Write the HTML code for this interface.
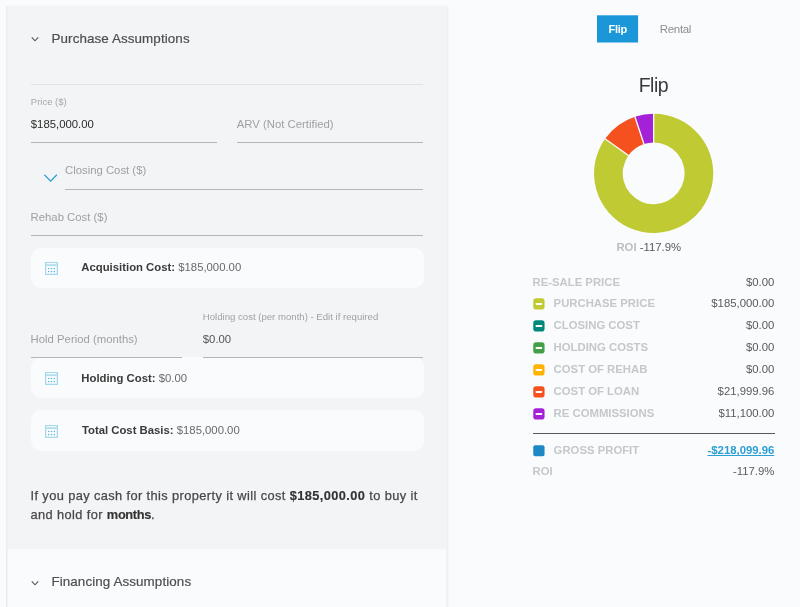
<!DOCTYPE html>
<html>
<head>
<meta charset="utf-8">
<title>Flip Calculator</title>
<style>
  html, body { margin: 0; padding: 0; }
  body {
    width: 800px; height: 607px; overflow: hidden; position: relative;
    background: #fafbfd;
    font-family: "Liberation Sans", sans-serif;
    font-size: 11.33px; color: #333;
  }
  .abs { position: absolute; white-space: nowrap; line-height: 1; }
  .card { position: absolute; left: 6.5px; top: 5.5px; width: 441px; height: 544px; background: #f3f4f6; border-radius: 2px 2px 0 0; box-shadow: 0 0 2px rgba(0,0,0,0.10); }
  .card2 { position: absolute; left: 6.5px; top: 549.3px; width: 441px; height: 70px; background: #f9fafc; box-shadow: 0 0 2px rgba(0,0,0,0.10); }
  .hdr { font-size: 13.4px; color: #4e4e4e; letter-spacing: 0.1px; -webkit-text-stroke: 0.2px #4e4e4e; }
  .line { position: absolute; height: 1px; background: #b3b6b9; }
  .lbl { color: #a0a0a0; font-size: 11.33px; }
  .sm { color: #a8a8a8; font-size: 9.5px; }
  .val { color: #2b2b2b; font-size: 11.33px; }
  .box { position: absolute; left: 31px; width: 393px; background: #fafbfd; border-radius: 10px; }
  .box .t { position: absolute; left: 50.3px; line-height: 1; white-space: nowrap; color: #6a6a6a; font-size: 11.33px; }
  .box .t b { color: #3a3a3a; }
  .box svg { position: absolute; left: 14px; }
  .para { position: absolute; left: 30.5px; top: 485.7px; width: 400px; font-size: 12.8px; line-height: 19.7px; color: #484848; letter-spacing: 0.4px; -webkit-text-stroke: 0.25px #484848; }
  .para b { color: #333; -webkit-text-stroke: 0.15px #333; }
  .row { position: absolute; left: 532.5px; width: 241.8px; height: 22px; }
  .row .k { position: absolute; left: 21.1px; top: 5px; line-height: 1; font-weight: bold; color: #c4c8cb; font-size: 11.33px; white-space: nowrap; }
  .row .k0 { left: 0; }
  .row .v { position: absolute; right: 0; top: 5px; line-height: 1; color: #5a5a5a; font-size: 11.33px; white-space: nowrap; }
  .row .ic { position: absolute; left: 0px; top: 5px; }
  .row .ic i { position: absolute; left: 2.3px; top: 4.8px; width: 6.8px; height: 2px; background: #fff; border-radius: 1px; }
</style>
</head>
<body>
<div id="wrap" style="position:absolute;left:0;top:0;width:800px;height:607px;will-change:transform">

<!-- LEFT CARD -->
<svg class="abs" style="left:0;top:0" width="460" height="607" viewBox="0 0 460 607">
  <rect x="6.2" y="5.5" width="441.6" height="543.75" rx="1.5" fill="#f3f4f6"/>
  <rect x="6.0" y="6" width="1.6" height="610" fill="#ebedef"/>
  <rect x="446.5" y="6" width="1.9" height="610" fill="#eef0f2"/>
</svg>

<svg class="abs" style="left:30.1px;top:33.9px" width="10" height="10" viewBox="0 0 10 10"><path d="M1.75 3.3 L5 6.8 L8.25 3.3" fill="none" stroke="#555" stroke-width="1.1"/></svg>
<div class="abs hdr" style="left:51.5px;top:31.66px">Purchase Assumptions</div>

<div class="line" style="left:31px;top:84px;width:392.2px;background:#e1e4e7"></div>

<div class="abs sm" style="left:30.8px;top:96.96px">Price ($)</div>
<div class="abs val" style="left:30.8px;top:119.01px">$185,000.00</div>
<div class="line" style="left:30.8px;top:142px;width:186.2px"></div>

<div class="abs lbl" style="left:236.8px;top:118.81px">ARV (Not Certified)</div>
<div class="line" style="left:236.8px;top:142px;width:186.7px"></div>

<svg class="abs" style="left:43.6px;top:172px" width="14" height="12" viewBox="0 0 14 12"><path d="M0.3 2.7 L6.6 9.1 L12.85 2.7" fill="none" stroke="#2a9fc9" stroke-width="1.3"/></svg>
<div class="abs lbl" style="left:65px;top:165.41px">Closing Cost ($)</div>
<div class="line" style="left:65px;top:188.5px;width:358.2px"></div>

<div class="abs lbl" style="left:30.6px;top:211.61px">Rehab Cost ($)</div>
<div class="line" style="left:30.8px;top:235px;width:392.7px"></div>

<div class="box" style="top:248px;height:40.3px">
  <svg style="top:14px" width="13" height="13" viewBox="0 0 13 13"><rect x="0.65" y="0.65" width="11.7" height="11.7" fill="#fdfeff" stroke="#a6d8eb" stroke-width="1.3"/><rect x="1.3" y="2.1" width="10.4" height="2.0" fill="#b2ddee"/><rect x="1.9" y="1.3" width="9.2" height="0.8" fill="#ffffff"/><g fill="#62b5da"><circle cx="3.65" cy="6.5" r="0.8"/><circle cx="6.5" cy="6.5" r="0.8"/><circle cx="9.35" cy="6.5" r="0.8"/><circle cx="3.65" cy="9.6" r="0.8"/><circle cx="6.5" cy="9.6" r="0.8"/><circle cx="9.35" cy="9.6" r="0.8"/></g></svg>
  <div class="t" style="top:14.31px"><b>Acquisition Cost:</b> $185,000.00</div>
</div>

<div class="box" style="top:357.3px;height:41px">
  <svg style="top:14.8px" width="13" height="13" viewBox="0 0 13 13"><rect x="0.65" y="0.65" width="11.7" height="11.7" fill="#fdfeff" stroke="#a6d8eb" stroke-width="1.3"/><rect x="1.3" y="2.1" width="10.4" height="2.0" fill="#b2ddee"/><rect x="1.9" y="1.3" width="9.2" height="0.8" fill="#ffffff"/><g fill="#62b5da"><circle cx="3.65" cy="6.5" r="0.8"/><circle cx="6.5" cy="6.5" r="0.8"/><circle cx="9.35" cy="6.5" r="0.8"/><circle cx="3.65" cy="9.6" r="0.8"/><circle cx="6.5" cy="9.6" r="0.8"/><circle cx="9.35" cy="9.6" r="0.8"/></g></svg>
  <div class="t" style="top:16.11px"><b>Holding Cost:</b> $0.00</div>
</div>

<div class="abs sm" style="left:202.8px;top:312.27px;font-size:9.6px;color:#a2a2a2">Holding cost (per month) - Edit if required</div>
<div class="abs lbl" style="left:30.6px;top:334.01px">Hold Period (months)</div>
<div class="line" style="left:30.8px;top:357px;width:151.7px"></div>
<div class="abs val" style="left:202.8px;top:334.41px;color:#555">$0.00</div>
<div class="line" style="left:202.8px;top:357px;width:220.7px"></div>

<div class="box" style="top:410.4px;height:41px">
  <svg style="top:14.6px" width="13" height="13" viewBox="0 0 13 13"><rect x="0.65" y="0.65" width="11.7" height="11.7" fill="#fdfeff" stroke="#a6d8eb" stroke-width="1.3"/><rect x="1.3" y="2.1" width="10.4" height="2.0" fill="#b2ddee"/><rect x="1.9" y="1.3" width="9.2" height="0.8" fill="#ffffff"/><g fill="#62b5da"><circle cx="3.65" cy="6.5" r="0.8"/><circle cx="6.5" cy="6.5" r="0.8"/><circle cx="9.35" cy="6.5" r="0.8"/><circle cx="3.65" cy="9.6" r="0.8"/><circle cx="6.5" cy="9.6" r="0.8"/><circle cx="9.35" cy="9.6" r="0.8"/></g></svg>
  <div class="t" style="left:50.9px;top:14.41px"><b>Total Cost Basis:</b> $185,000.00</div>
</div>

<div class="para">If you pay cash for this property it will cost <b>$185,000.00</b> to buy it and hold for <b style="letter-spacing:-0.35px">months</b>.</div>

<svg class="abs" style="left:30.3px;top:577.6px" width="10" height="10" viewBox="0 0 10 10"><path d="M1.75 3.3 L5 6.8 L8.25 3.3" fill="none" stroke="#555" stroke-width="1.1"/></svg>
<div class="abs hdr" style="left:51.4px;top:575.06px">Financing Assumptions</div>

<!-- RIGHT SIDE -->
<svg class="abs" style="left:590px;top:10px" width="60" height="40" viewBox="0 0 60 40"><rect x="7.0" y="5.3" width="41.1" height="27.2" fill="#1b97d9"/></svg>
<div class="abs" style="left:597px;top:23.79px;width:41.6px;text-align:center;color:#fff;font-weight:bold;font-size:11px;letter-spacing:-0.3px">Flip</div>
<div class="abs" style="left:659.7px;top:24.27px;color:#8e8e8e;font-size:11.5px;letter-spacing:-0.3px">Rental</div>

<div class="abs" style="left:603.4px;top:75.74px;width:100px;text-align:center;font-size:19.5px;letter-spacing:-0.5px;color:#3a3a3a">Flip</div>

<svg class="abs" style="left:588px;top:108px" width="130" height="130" viewBox="-65.65 -65.35 130 130">
  <g>
    <path fill="#c0ca33" d="M0.00 -59.60 A59.6 59.6 0 1 1 -48.60 -34.50 L-25.20 -17.88 A30.9 30.9 0 1 0 0.00 -30.90 Z"/>
    <path fill="#f4511e" d="M-48.60 -34.50 A59.6 59.6 0 0 1 -18.74 -56.58 L-9.71 -29.33 A30.9 30.9 0 0 0 -25.20 -17.88 Z"/>
    <path fill="#a521d8" d="M-18.74 -56.58 A59.6 59.6 0 0 1 -0.00 -59.60 L-0.00 -30.90 A30.9 30.9 0 0 0 -9.71 -29.33 Z"/>
  </g>
  <g stroke="#fcfcfd" stroke-width="1.3">
    <line x1="0.00" y1="-60.10" x2="0.00" y2="-30.40"/>
    <line x1="-49.01" y1="-34.78" x2="-24.79" y2="-17.59"/>
    <line x1="-18.89" y1="-57.05" x2="-9.56" y2="-28.86"/>
  </g>
</svg>

<div class="abs" style="left:616.4px;top:241.91px;font-size:11.33px;color:#5a5a5a"><b style="color:#bcbfc2">ROI</b> -117.9%</div>

<div class="row" style="top:272.11px"><div class="k k0">RE-SALE PRICE</div><div class="v">$0.00</div></div>
<div class="row" style="top:293.11px"><svg class="ic" width="13" height="13" viewBox="0 0 13 13"><rect x="0.25" y="0.3" width="11.3" height="11.2" rx="2.8" fill="#c0ca33"/><rect x="2.5" y="4.9" width="6.8" height="2.0" rx="0.8" fill="#fff"/></svg><div class="k">PURCHASE PRICE</div><div class="v">$185,000.00</div></div>
<div class="row" style="top:315.11px"><svg class="ic" width="13" height="13" viewBox="0 0 13 13"><rect x="0.25" y="0.3" width="11.3" height="11.2" rx="2.8" fill="#00897b"/><rect x="2.5" y="4.9" width="6.8" height="2.0" rx="0.8" fill="#fff"/></svg><div class="k">CLOSING COST</div><div class="v">$0.00</div></div>
<div class="row" style="top:337.11px"><svg class="ic" width="13" height="13" viewBox="0 0 13 13"><rect x="0.25" y="0.3" width="11.3" height="11.2" rx="2.8" fill="#43a047"/><rect x="2.5" y="4.9" width="6.8" height="2.0" rx="0.8" fill="#fff"/></svg><div class="k">HOLDING COSTS</div><div class="v">$0.00</div></div>
<div class="row" style="top:359.11px"><svg class="ic" width="13" height="13" viewBox="0 0 13 13"><rect x="0.25" y="0.3" width="11.3" height="11.2" rx="2.8" fill="#ffb300"/><rect x="2.5" y="4.9" width="6.8" height="2.0" rx="0.8" fill="#fff"/></svg><div class="k">COST OF REHAB</div><div class="v">$0.00</div></div>
<div class="row" style="top:381.11px"><svg class="ic" width="13" height="13" viewBox="0 0 13 13"><rect x="0.25" y="0.3" width="11.3" height="11.2" rx="2.8" fill="#f4511e"/><rect x="2.5" y="4.9" width="6.8" height="2.0" rx="0.8" fill="#fff"/></svg><div class="k">COST OF LOAN</div><div class="v">$21,999.96</div></div>
<div class="row" style="top:403.11px"><svg class="ic" width="13" height="13" viewBox="0 0 13 13"><rect x="0.25" y="0.3" width="11.3" height="11.2" rx="2.8" fill="#a521d8"/><rect x="2.5" y="4.9" width="6.8" height="2.0" rx="0.8" fill="#fff"/></svg><div class="k">RE COMMISSIONS</div><div class="v">$11,100.00</div></div>

<div class="line" style="left:532.5px;top:433px;width:242px;background:#5a5a5a"></div>

<div class="row" style="top:439.81px"><svg class="ic" width="13" height="13" viewBox="0 0 13 13"><rect x="0.25" y="0.3" width="11.3" height="11.0" rx="2" fill="#1e88c7"/></svg><div class="k">GROSS PROFIT</div><div class="v" style="color:#2b9fd3;font-weight:bold;text-decoration:underline;text-decoration-skip-ink:none">-$218,099.96</div></div>
<div class="row" style="top:461.41px"><div class="k k0">ROI</div><div class="v">-117.9%</div></div>

</div>
</body>
</html>
